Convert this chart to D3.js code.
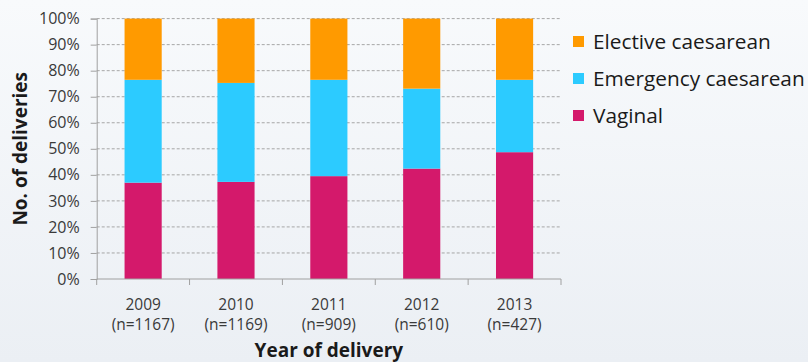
<!DOCTYPE html>
<html>
<head>
<meta charset="utf-8">
<script src="https://cdn.jsdelivr.net/npm/d3@7"></script>
<style>
  html, body { margin: 0; padding: 0; background: #fff; }
  svg { display: block; font-family: "Open Sans", sans-serif; }
</style>
</head>
<body>
<svg id="chart" width="808" height="362"></svg>
<script>
// Delivery mode share by year (percent of deliveries)
const years = ["2009", "2010", "2011", "2012", "2013"];
const counts = ["(n=1167)", "(n=1169)", "(n=909)", "(n=610)", "(n=427)"];
const seriesNames = ["Vaginal", "Emergency caesarean", "Elective caesarean"];
const vaginal = [37.0, 37.3, 39.5, 42.4, 48.7];
const emergency = [39.5, 38.0, 37.0, 30.7, 27.8];
const elective = [23.5, 24.7, 23.5, 26.9, 23.5];
const yTicks = [0, 10, 20, 30, 40, 50, 60, 70, 80, 90, 100];
const colors = ["#d4196b", "#2ccbff", "#ff9a00"];

const svg = d3.select("#chart");
const W = 808, H = 362;
const margin = { left: 96.7, right: 247, top: 18.6, bottom: 83 };
const plotW = W - margin.left - margin.right;
const plotH = H - margin.top - margin.bottom;
const font = "'Open Sans', sans-serif";

// soft background gradient
const defs = svg.append("defs");
const grad = defs.append("linearGradient").attr("id", "bg")
  .attr("x1", 0).attr("y1", 0).attr("x2", 0).attr("y2", 1);
grad.append("stop").attr("offset", "0%").attr("stop-color", "#f8fafc");
grad.append("stop").attr("offset", "100%").attr("stop-color", "#ebeff4");
svg.append("rect").attr("width", W).attr("height", H).attr("fill", "url(#bg)");

const rows = years.map((y, i) => ({
  year: y,
  "Vaginal": vaginal[i],
  "Emergency caesarean": emergency[i],
  "Elective caesarean": elective[i]
}));
const stacked = d3.stack().keys(seriesNames)(rows);

const x = d3.scaleBand().domain(years).range([0, plotW])
  .paddingInner(0.6).paddingOuter(0.3);
const y = d3.scaleLinear().domain([0, 100]).range([plotH, 0]);
const step = x.step();

const g = svg.append("g").attr("transform", `translate(${margin.left},${margin.top})`);

// dashed gridlines
g.append("g").selectAll("line").data(yTicks.filter(t => t > 0)).join("line")
  .attr("x1", 0).attr("x2", plotW)
  .attr("y1", d => y(d)).attr("y2", d => y(d))
  .attr("stroke", "#a6a6a6").attr("stroke-width", 1)
  .attr("stroke-dasharray", "3,2");

// stacked bars
g.append("g").selectAll("g").data(stacked).join("g")
  .attr("fill", (d, i) => colors[i])
  .selectAll("rect").data(d => d).join("rect")
  .attr("x", d => x(d.data.year))
  .attr("width", x.bandwidth())
  .attr("y", d => y(d[1]))
  .attr("height", d => y(d[0]) - y(d[1]));

// y axis
const yAxis = d3.axisLeft(y).tickValues(yTicks).tickFormat(d => d + "%").tickSize(6).tickPadding(11);
const ya = g.append("g").call(yAxis);
ya.select(".domain").attr("stroke", "#a0a0a0");
ya.selectAll(".tick line").attr("stroke", "#a0a0a0");
ya.selectAll("text").attr("fill", "#3a3a3a").style("font-size", "16px")
  .style("font-family", font);

// x axis baseline with ticks at band edges
const edges = years.map(d => x(d) - step * 0.3).concat([plotW]);
g.append("line").attr("x1", 0).attr("x2", plotW).attr("y1", plotH).attr("y2", plotH)
  .attr("stroke", "#a0a0a0");
g.append("g").selectAll("line").data(edges).join("line")
  .attr("x1", d => d).attr("x2", d => d)
  .attr("y1", plotH).attr("y2", plotH + 6)
  .attr("stroke", "#a0a0a0");

// category labels
const lbl = g.append("g").selectAll("text").data(years).join("text")
  .attr("x", d => x(d) + x.bandwidth() / 2)
  .attr("text-anchor", "middle")
  .attr("fill", "#3a3a3a")
  .style("font-size", "15.5px");
lbl.append("tspan").attr("x", d => x(d) + x.bandwidth() / 2).attr("y", plotH + 31).text(d => d);
lbl.append("tspan").attr("x", d => x(d) + x.bandwidth() / 2).attr("y", plotH + 51)
  .text((d, i) => counts[i]);

// axis titles
svg.append("text")
  .attr("x", margin.left + plotW / 2).attr("y", 357)
  .attr("text-anchor", "middle").attr("fill", "#1a1a1a")
  .style("font-size", "19px").style("font-weight", "bold")
  .text("Year of delivery");
svg.append("text")
  .attr("transform", `translate(27,${margin.top + plotH / 2}) rotate(-90)`)
  .attr("text-anchor", "middle").attr("fill", "#1a1a1a")
  .style("font-size", "19px").style("font-weight", "bold")
  .text("No. of deliveries");

// legend (top item is the top segment)
const legendItems = seriesNames.map((n, i) => ({ name: n, color: colors[i] })).reverse();
const lg = svg.append("g").attr("transform", "translate(573,41.5)");
const li = lg.selectAll("g").data(legendItems).join("g")
  .attr("transform", (d, i) => `translate(0,${i * 37})`);
li.append("rect").attr("x", 0).attr("y", -5.5).attr("width", 11).attr("height", 11)
  .attr("fill", d => d.color);
li.append("text").attr("x", 20).attr("y", 0).attr("dy", "0.36em")
  .attr("fill", "#1a1a1a").style("font-size", "20.8px")
  .text(d => d.name);
</script>
</body>
</html>
